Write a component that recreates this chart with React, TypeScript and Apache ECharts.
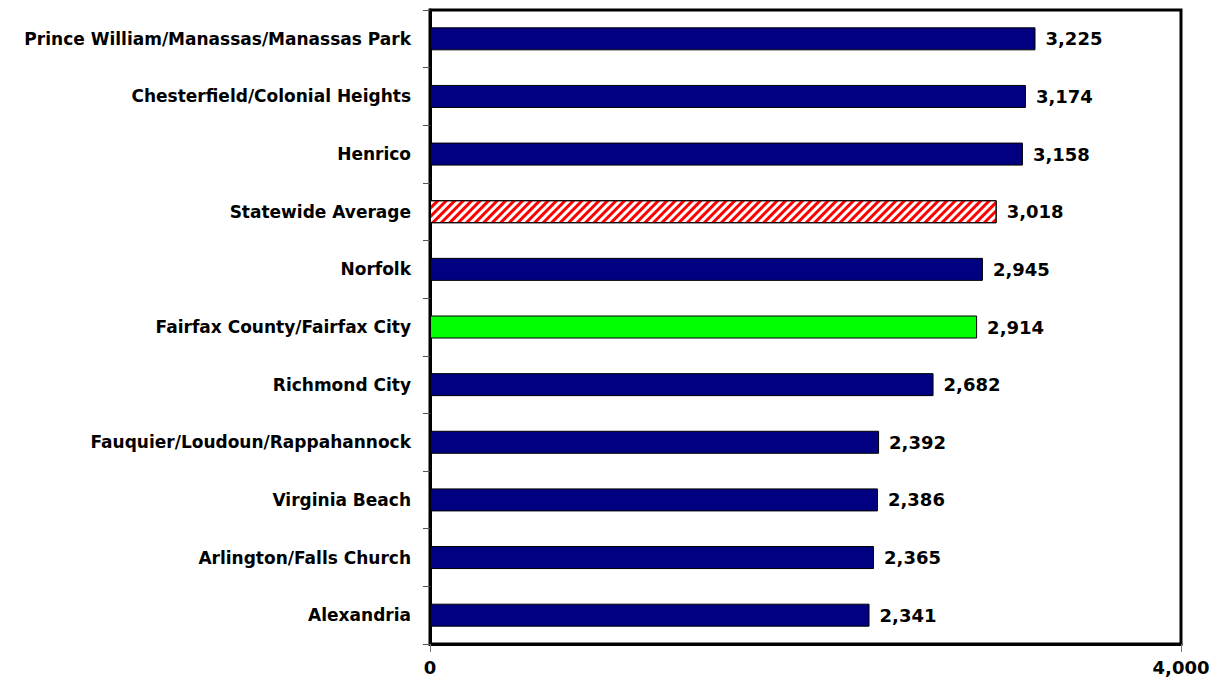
import React, { useEffect, useRef } from "react";
import * as echarts from "echarts";

const categories = [
  "Prince William/Manassas/Manassas Park",
  "Chesterfield/Colonial Heights",
  "Henrico",
  "Statewide Average",
  "Norfolk",
  "Fairfax County/Fairfax City",
  "Richmond City",
  "Fauquier/Loudoun/Rappahannock",
  "Virginia Beach",
  "Arlington/Falls Church",
  "Alexandria",
];
const values = [3225, 3174, 3158, 3018, 2945, 2914, 2682, 2392, 2386, 2365, 2341];
const xTicks = [0, 4000];
const averageName = "Statewide Average";
const focusName = "Fairfax County/Fairfax City";

const LABEL_FONT = "'DejaVu Sans', sans-serif";
const NUM_FONT = "'DejaVu Sans', sans-serif";

export default function App() {
  const ref = useRef<HTMLDivElement>(null);
  useEffect(() => {
    if (!ref.current) return;
    const chart = echarts.init(ref.current, undefined, { renderer: "svg" });
    const data = categories.map((name, i) => {
      if (name === averageName) {
        return {
          value: values[i],
          itemStyle: {
            color: "#ffffff",
            borderColor: "#000",
            borderWidth: 1,
            decal: {
              symbol: "rect",
              symbolSize: 1,
              color: "#ff0000",
              dashArrayX: [1, 0],
              dashArrayY: [2.5, 2.5],
              rotation: -Math.PI / 4,
            },
          },
        };
      }
      if (name === focusName) {
        return { value: values[i], itemStyle: { color: "#00ff00", borderColor: "#000", borderWidth: 1 } };
      }
      return { value: values[i] };
    });
    chart.setOption({
      animation: false,
      backgroundColor: "#ffffff",
      grid: {
        left: 430,
        right: 39,
        top: 10,
        height: 634,
        show: true,
        borderColor: "#000",
        borderWidth: 3,
        containLabel: false,
      },
      xAxis: {
        type: "value",
        min: xTicks[0],
        max: xTicks[xTicks.length - 1],
        interval: xTicks[1] - xTicks[0],
        splitLine: { show: false },
        axisLine: { show: true, lineStyle: { color: "#000", width: 3 } },
        axisTick: { show: true, length: 8, lineStyle: { color: "#777", width: 1 } },
        axisLabel: {
          margin: 14,
          fontFamily: NUM_FONT,
          fontWeight: "bold",
          fontSize: 18,
          color: "#000",
          formatter: (v: number) => v.toLocaleString("en-US"),
        },
      },
      yAxis: {
        type: "category",
        data: categories,
        inverse: true,
        axisLine: { show: true, lineStyle: { color: "#000", width: 3 } },
        axisTick: { show: true, length: 7, lineStyle: { color: "#555", width: 1 } },
        axisLabel: {
          margin: 19,
          fontFamily: LABEL_FONT,
          fontWeight: "bold",
          fontSize: 17,
          color: "#000",
        },
      },
      series: [
        {
          type: "bar",
          data,
          barWidth: 23,
          itemStyle: { color: "#000080", borderColor: "#000", borderWidth: 1 },
          label: {
            show: true,
            position: "right",
            distance: 10,
            fontFamily: NUM_FONT,
            fontWeight: "bold",
            fontSize: 18,
            color: "#000",
            formatter: (p: any) => Number(p.value).toLocaleString("en-US"),
          },
        },
      ],
    });
    return () => chart.dispose();
  }, []);
  return <div ref={ref} style={{ width: 1220, height: 678, position: "absolute", left: 0, top: 0 }} />;
}
